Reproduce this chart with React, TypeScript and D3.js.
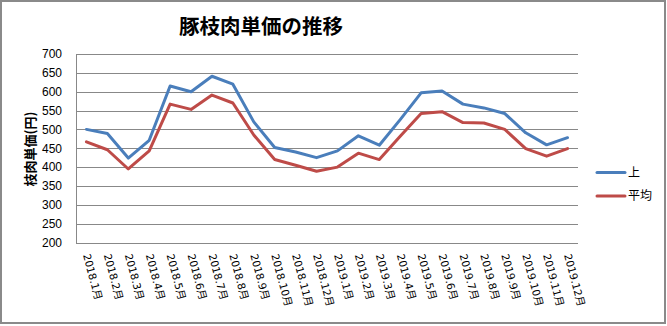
import React from "react";
import * as d3 from "d3";

const categories = [
  "2018.1月","2018.2月","2018.3月","2018.4月","2018.5月","2018.6月",
  "2018.7月","2018.8月","2018.9月","2018.10月","2018.11月","2018.12月",
  "2019.1月","2019.2月","2019.3月","2019.4月","2019.5月","2019.6月",
  "2019.7月","2019.8月","2019.9月","2019.10月","2019.11月","2019.12月",
];
const seriesJou = [500, 489, 424, 471, 615, 600, 641, 620, 520, 452, 440, 425, 443, 483, 458, 526, 597, 602, 567, 557, 542, 491, 459, 478];
const seriesAvg = [467, 446, 395, 443, 567, 553, 591, 570, 485, 420, 405, 389, 400, 437, 420, 482, 542, 547, 518, 517, 500, 449, 429, 449];
const yTicks = [200, 250, 300, 350, 400, 450, 500, 550, 600, 650, 700];
const seriesNames = ["上", "平均"];
const colors = ["#4A7EBB", "#BE4B48"];

export default function App() {
  const W = 667, H = 326;
  const left = 76, right = 578, top = 54, bottom = 242.5;
  const x = d3.scaleBand<string>().domain(categories).range([left, right]);
  const y = d3.scaleLinear().domain([200, 700]).range([bottom, top]);
  const line = d3.line<number>()
    .x((_, i) => (x(categories[i]) as number) + x.bandwidth() / 2)
    .y((d) => y(d));
  const series = [seriesJou, seriesAvg];
  const legendY = [172.5, 196];
  return (
    <svg width={W} height={H} style={{ position: "absolute", left: 0, top: 0 }}>
      <rect x={0} y={0} width={W} height={H} fill="#fff" />
      <rect x={1} y={1} width={664} height={322} fill="#fff" stroke="#8a8a8a" strokeWidth={2} />
      <text x={261} y={34} textAnchor="middle" fontFamily="'Noto Sans CJK JP', sans-serif" fontWeight="bold" fontSize={20.5} fill="#000">豚枝肉単価の推移</text>
      {yTicks.map((t) => (
        <g key={t}>
          <line x1={left} x2={right} y1={Math.round(y(t)) + 0.5} y2={Math.round(y(t)) + 0.5} stroke="#888" strokeWidth={1} />
          <text x={62} y={y(t)} dy="0.36em" textAnchor="end" fontFamily="'Liberation Sans', Arial, sans-serif" fontSize={12} fill="#000">{t}</text>
        </g>
      ))}
      <line x1={left + 0.5} x2={left + 0.5} y1={top} y2={bottom + 0.5} stroke="#888" strokeWidth={1} />
      <text transform={`translate(30,149) rotate(-90)`} textAnchor="middle" dy="0.35em" fontFamily="'Noto Sans CJK JP', sans-serif" fontWeight="bold" fontSize={13} fill="#000">枝肉単価(円)</text>
      {categories.map((c) => {
        const cx = (x(c) as number) + x.bandwidth() / 2;
        return (
          <text key={c} transform={`translate(${cx},254) rotate(75)`} textAnchor="start" dy="0.35em" fontFamily="'DejaVu Sans', 'Noto Sans CJK JP', sans-serif" fontSize={10.5} fill="#000">{c}</text>
        );
      })}
      {series.map((s, i) => (
        <path key={i} d={line(s) as string} fill="none" stroke={colors[i]} strokeWidth={3} strokeLinejoin="round" strokeLinecap="round" />
      ))}
      {seriesNames.map((n, i) => (
        <g key={n}>
          <line x1={597} x2={625} y1={legendY[i]} y2={legendY[i]} stroke={colors[i]} strokeWidth={3} strokeLinecap="round" />
          <text x={628} y={legendY[i]} dy="0.36em" fontFamily="'Noto Sans CJK JP', sans-serif" fontSize={12} fill="#000">{n}</text>
        </g>
      ))}
    </svg>
  );
}
